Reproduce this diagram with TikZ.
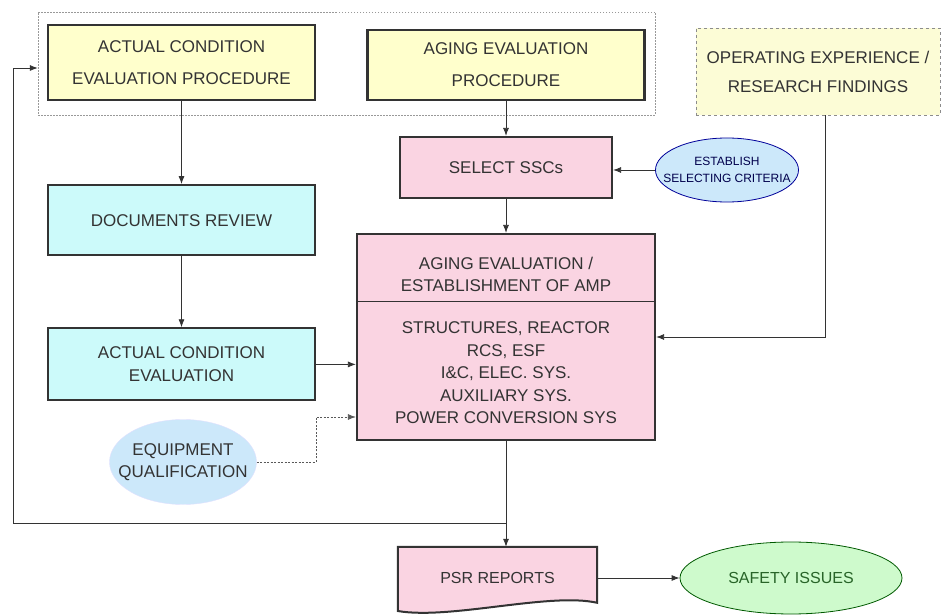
\documentclass[tikz,border=0pt]{standalone}
\usepackage{fontspec}
\setmainfont{Liberation Sans}
\usetikzlibrary{arrows.meta,positioning,shapes.geometric}

\definecolor{procyellow}{RGB}{255,255,204}
\definecolor{oeyellow}{RGB}{252,252,214}
\definecolor{revcyan}{RGB}{204,250,250}
\definecolor{evalpink}{RGB}{250,212,226}
\definecolor{critblue}{RGB}{204,232,250}
\definecolor{issuegreen}{RGB}{206,250,204}
\definecolor{issuetext}{RGB}{40,100,40}

\newcommand{\elltext}[1]{\makebox[0pt]{#1}}

\begin{document}
\begin{tikzpicture}[x=1pt,y=1pt,node distance=80pt,>={Latex[length=8pt,width=6pt]},
 box/.style={draw=black!80,line width=2.2pt,align=center,text=black!80,inner sep=2pt,
   font=\fontsize{17}{22}\selectfont},
 ybox/.style={box,fill=procyellow,font=\fontsize{17}{32}\selectfont},
 cbox/.style={box,fill=revcyan},
 pbox/.style={box,fill=evalpink},
 oebox/.style={draw=black!45,dashed,fill=oeyellow,align=center,text=black!80,
   font=\fontsize{17}{29}\selectfont},
 grpbox/.style={draw=black!40,dash pattern=on 1.5pt off 1.5pt},
 ell/.style={ellipse,align=center,inner sep=0pt},
 txt/.style={align=center,text=black!80,font=\fontsize{17}{22}\selectfont},
 link/.style={draw=black!80,line width=0.8pt}]
\useasboundingbox[fill=white] (0,0) rectangle (943,614);

% procedures on top
\node[grpbox,minimum width=617,minimum height=103] (grp) at (346.5,550.5) {};
\node[ybox,minimum width=267,minimum height=75] (acep) at (181.5,551.5) {ACTUAL CONDITION\\EVALUATION PROCEDURE};
\node[ybox,minimum width=277,minimum height=70] (aep) at (506,549) {AGING EVALUATION\\PROCEDURE};
\node[oebox,minimum width=244,minimum height=87] (oe) at (818,542.5) {OPERATING EXPERIENCE /\\RESEARCH FINDINGS};

% left column
\node[cbox,minimum width=267,minimum height=70,below=83pt of acep] (dr) {DOCUMENTS REVIEW};
\node[cbox,minimum width=267,minimum height=72,below=71pt of dr,font=\fontsize{17}{23}\selectfont] (ace) {ACTUAL CONDITION\\EVALUATION};
\node[ell,fill=critblue,draw=blue!12,minimum width=147,minimum height=85,txt] (eq) at (183,152)
  {\elltext{EQUIPMENT}\\\elltext{QUALIFICATION}};

% middle column
\node[pbox,minimum width=212,minimum height=61] (ssc) at (506,446.5) {SELECT SSCs};
\node[ell,fill=critblue,draw=blue!60!black,line width=0.8pt,minimum width=143,minimum height=64,
  text=blue!30!black,font=\fontsize{12}{17}\selectfont] (esc) at (727,444)
  {\elltext{ESTABLISH}\\\elltext{SELECTING CRITERIA}};
\node[pbox,minimum width=298,minimum height=206] (main) at (506,277) {};
\draw[draw=black!80,line width=1pt] (main.west |- 0,312) -- (main.east |- 0,312);
\node[txt] (amp) at (506,340) {AGING EVALUATION /\\ESTABLISHMENT OF AMP};
\node[txt,font=\fontsize{17}{22.5}\selectfont] (sys) at (506,241)
  {STRUCTURES, REACTOR\\RCS, ESF\\I\&C, ELEC. SYS.\\AUXILIARY SYS.\\POWER CONVERSION SYS};

% reports
\node[minimum width=199,minimum height=62,inner sep=0pt] (psr) at (497.5,36) {};
\draw[draw=black!80,line width=2pt,fill=evalpink] (psr.north west) -- (psr.north east) -- ++(0,-56)
  .. controls (550,22) and (450,-6) .. (psr.west |- 0,3) -- cycle;
\node[txt,font=\fontsize{16}{20}\selectfont] (psrtext) at (psr) {PSR REPORTS};
\node[ell,fill=issuegreen,draw=green!35!black,line width=0.8pt,minimum width=222,minimum height=72,
  text=issuetext,font=\fontsize{16}{20}\selectfont] (si) at (791,36) {SAFETY ISSUES};

% connectors
\coordinate (eqbend) at (ace.east |- eq.east);
\coordinate (fb) at (main.south |- 0,91);
\coordinate (fbcorner) at (13,91);
\draw[link,->] (acep) -- (dr);
\draw[link,->] (dr) -- (ace);
\draw[link,->] (ace.east) -- (main.west |- ace.east);
\draw[link,->,draw=black!65,dash pattern=on 2pt off 1.5pt] (eq.east) -- (eqbend) |- ([yshift=-80pt]main.west);
\draw[link,->] (aep) -- (ssc);
\draw[link,->] (esc.west) -- (ssc.east |- esc.west);
\draw[link,->] (ssc) -- (main);
\draw[link,->] ([xshift=7pt]oe.south) |- (main.east);
\draw[link,->] (main.south) -- (main.south |- psr.north);
\draw[link,->] (fb) -- (fbcorner) |- ([yshift=-4.5pt]grp.west);
\draw[link,->] (psr.east) -- (si.west);
\end{tikzpicture}
\end{document}
